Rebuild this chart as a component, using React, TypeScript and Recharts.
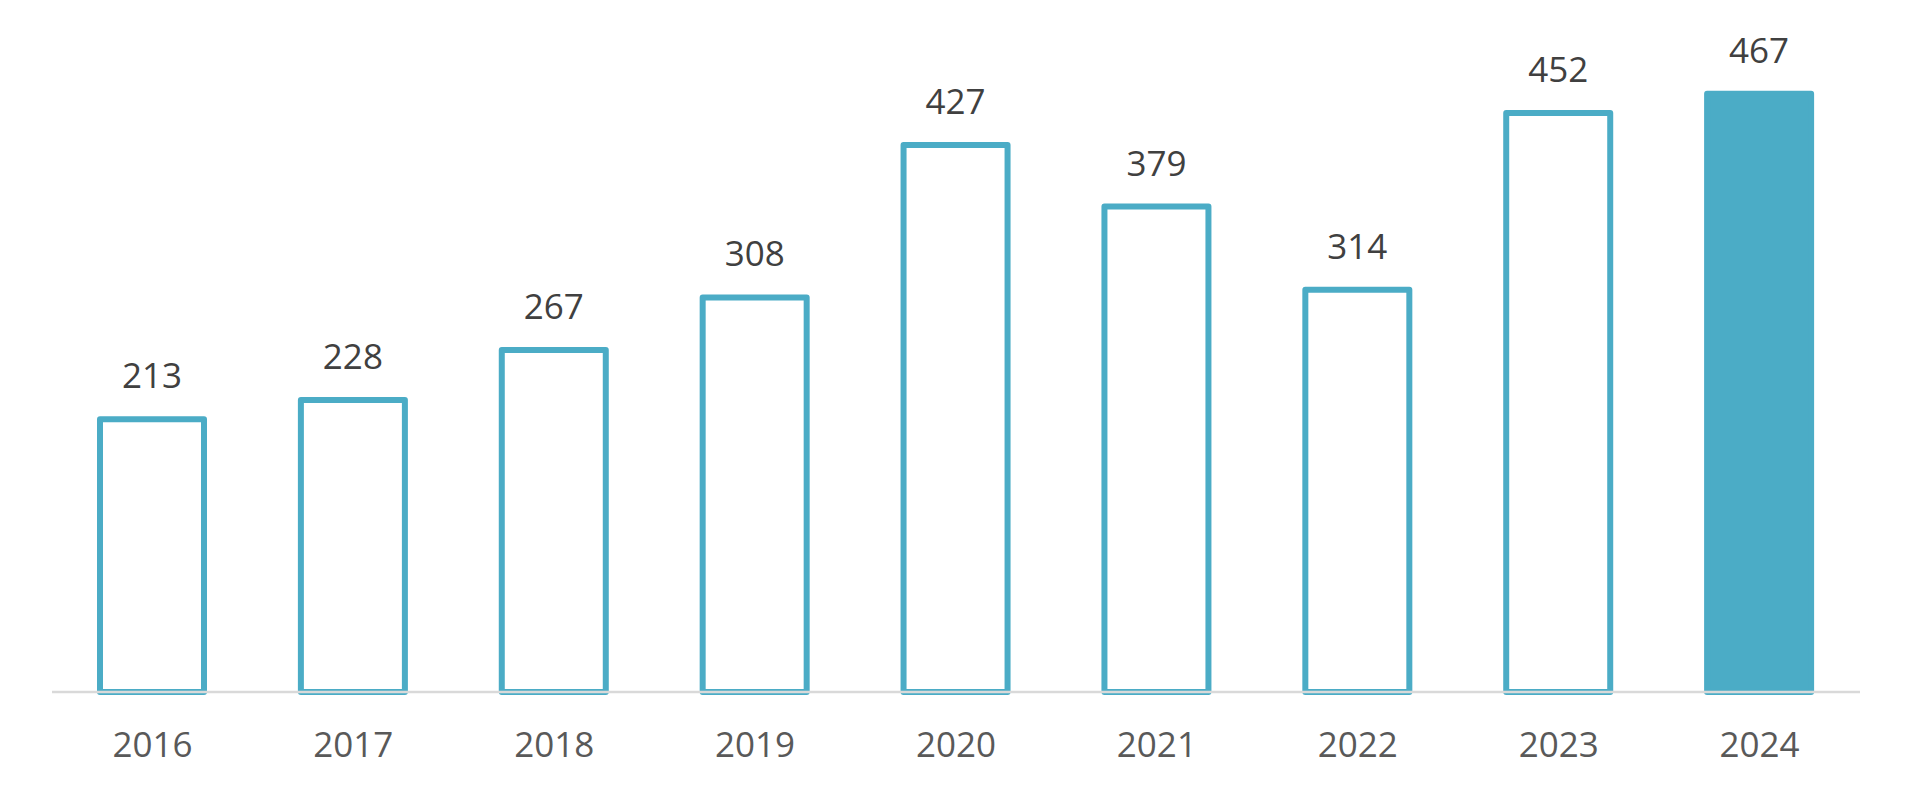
import { BarChart, Bar, XAxis, YAxis, LabelList, Cell } from 'recharts'

// Yearly totals, 2016–2024. The latest year is drawn filled, the rest outlined.
const YEARS = ['2016', '2017', '2018', '2019', '2020', '2021', '2022', '2023', '2024']
const VALUES = [213, 228, 267, 308, 427, 379, 314, 452, 467]
const HIGHLIGHT_YEAR = '2024'

const AQUA = '#4BACC6'
const FONT = '"Open Sans", "Noto Sans", sans-serif'

const data = YEARS.map((year, i) => ({ year, value: VALUES[i] }))

export default function App() {
  return (
    <div style={{ position: 'absolute', left: 0, top: 0, background: '#fff' }}>
      {/* XAxis keeps its default 30px band, so bottom margin + 30 = room under the baseline */}
      <BarChart
        width={1911}
        height={800}
        data={data}
        margin={{ top: 51.5, right: 51, bottom: 78, left: 52 }}
      >
        <XAxis
          dataKey="year"
          axisLine={{ stroke: '#D9D9D9', strokeWidth: 2.5 }}
          tickLine={false}
          tickSize={0}
          tickMargin={40}
          tick={{ fill: '#595959', fontSize: 35, fontFamily: FONT }}
          interval={0}
        />
        <YAxis hide domain={[0, 500]} />
        <Bar
          dataKey="value"
          barSize={104}
          stroke={AQUA}
          strokeWidth={6}
          strokeLinejoin="round"
          isAnimationActive={false}
        >
          {data.map(d => (
            <Cell key={d.year} fill={d.year === HIGHLIGHT_YEAR ? AQUA : '#FFFFFF'} />
          ))}
          <LabelList
            dataKey="value"
            position="top"
            offset={31}
            fill="#404040"
            fontSize={35}
            fontFamily={FONT}
          />
        </Bar>
      </BarChart>
    </div>
  )
}
